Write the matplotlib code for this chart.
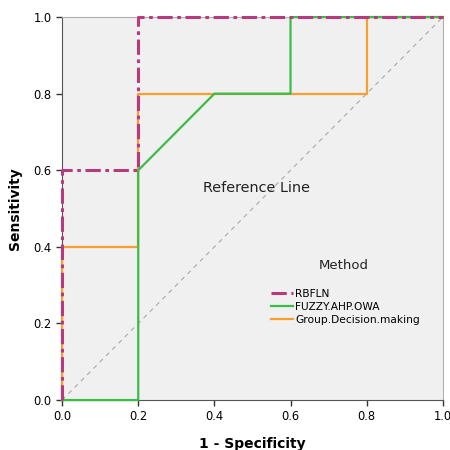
import matplotlib
matplotlib.use("Agg")
from matplotlib import pyplot as plt

# ROC curve points (1 - specificity, sensitivity)
rbfln_x = [0.0, 0.0, 0.2, 0.2, 1.0]
rbfln_y = [0.0, 0.6, 0.6, 1.0, 1.0]
fuzzy_x = [0.0, 0.2, 0.2, 0.4, 0.6, 0.6, 1.0]
fuzzy_y = [0.0, 0.0, 0.6, 0.8, 0.8, 1.0, 1.0]
group_x = [0.0, 0.0, 0.2, 0.2, 0.8, 0.8, 1.0]
group_y = [0.0, 0.4, 0.4, 0.8, 0.8, 1.0, 1.0]
ticks = [0.0, 0.2, 0.4, 0.6, 0.8, 1.0]

fig = plt.figure(figsize=(4.5, 4.5), dpi=100)
ax = fig.add_axes([0.138, 0.111, 0.846, 0.851])
ax.set_facecolor("#F0F0F0")

ax.plot([0, 1], [0, 1], color="#A8A8A8", lw=0.8, ls=(0, (4, 4)), zorder=1)
ax.text(0.37, 0.553, "Reference Line", fontsize=10.4, color="#222222", va="center", ha="left")

# curves drawn above the spines, like the original
ax.plot(group_x, group_y, color="#F7A030", lw=1.6, label="Group.Decision.making", zorder=3, clip_on=False)
ax.plot(fuzzy_x, fuzzy_y, color="#3DBB47", lw=1.6, label="FUZZY.AHP.OWA", zorder=4, clip_on=False)
ax.plot(rbfln_x, rbfln_y, color="#B83A7E", lw=2.2, ls=(0, (5, 1.5, 1.2, 1.5)), label="RBFLN", zorder=5, clip_on=False)

ax.set_xlim(0, 1)
ax.set_ylim(0, 1)
ax.set_xticks(ticks)
ax.set_yticks(ticks)
ax.set_xticklabels([f"{t:.1f}" for t in ticks], fontsize=8.3)
ax.set_yticklabels([f"{t:.1f}" for t in ticks], fontsize=8.3)
ax.tick_params(length=4, width=1, color="#333333")
for s in ["top", "right"]:
    ax.spines[s].set_color("#B0B0B0")
for s in ["left", "bottom"]:
    ax.spines[s].set_color("#555555")

ax.set_xlabel("1 - Specificity", fontsize=10, fontweight="bold", labelpad=10)
ax.set_ylabel("Sensitivity", fontsize=10, fontweight="bold", labelpad=8)

# legend title drawn separately (larger gap above entries, as in the original)
ax.text(0.741, 0.352, "Method", fontsize=9.5, color="#222222", ha="center", va="center")
handles, labels = ax.get_legend_handles_labels()
order = [2, 1, 0]
leg = ax.legend([handles[i] for i in order], [labels[i] for i in order],
                fontsize=7.7, frameon=False,
                loc="upper left", bbox_to_anchor=(0.53, 0.31),
                handlelength=2.0, handletextpad=0.2, labelspacing=0.3, borderpad=0.2)

fig.savefig("out.png", dpi=100)
